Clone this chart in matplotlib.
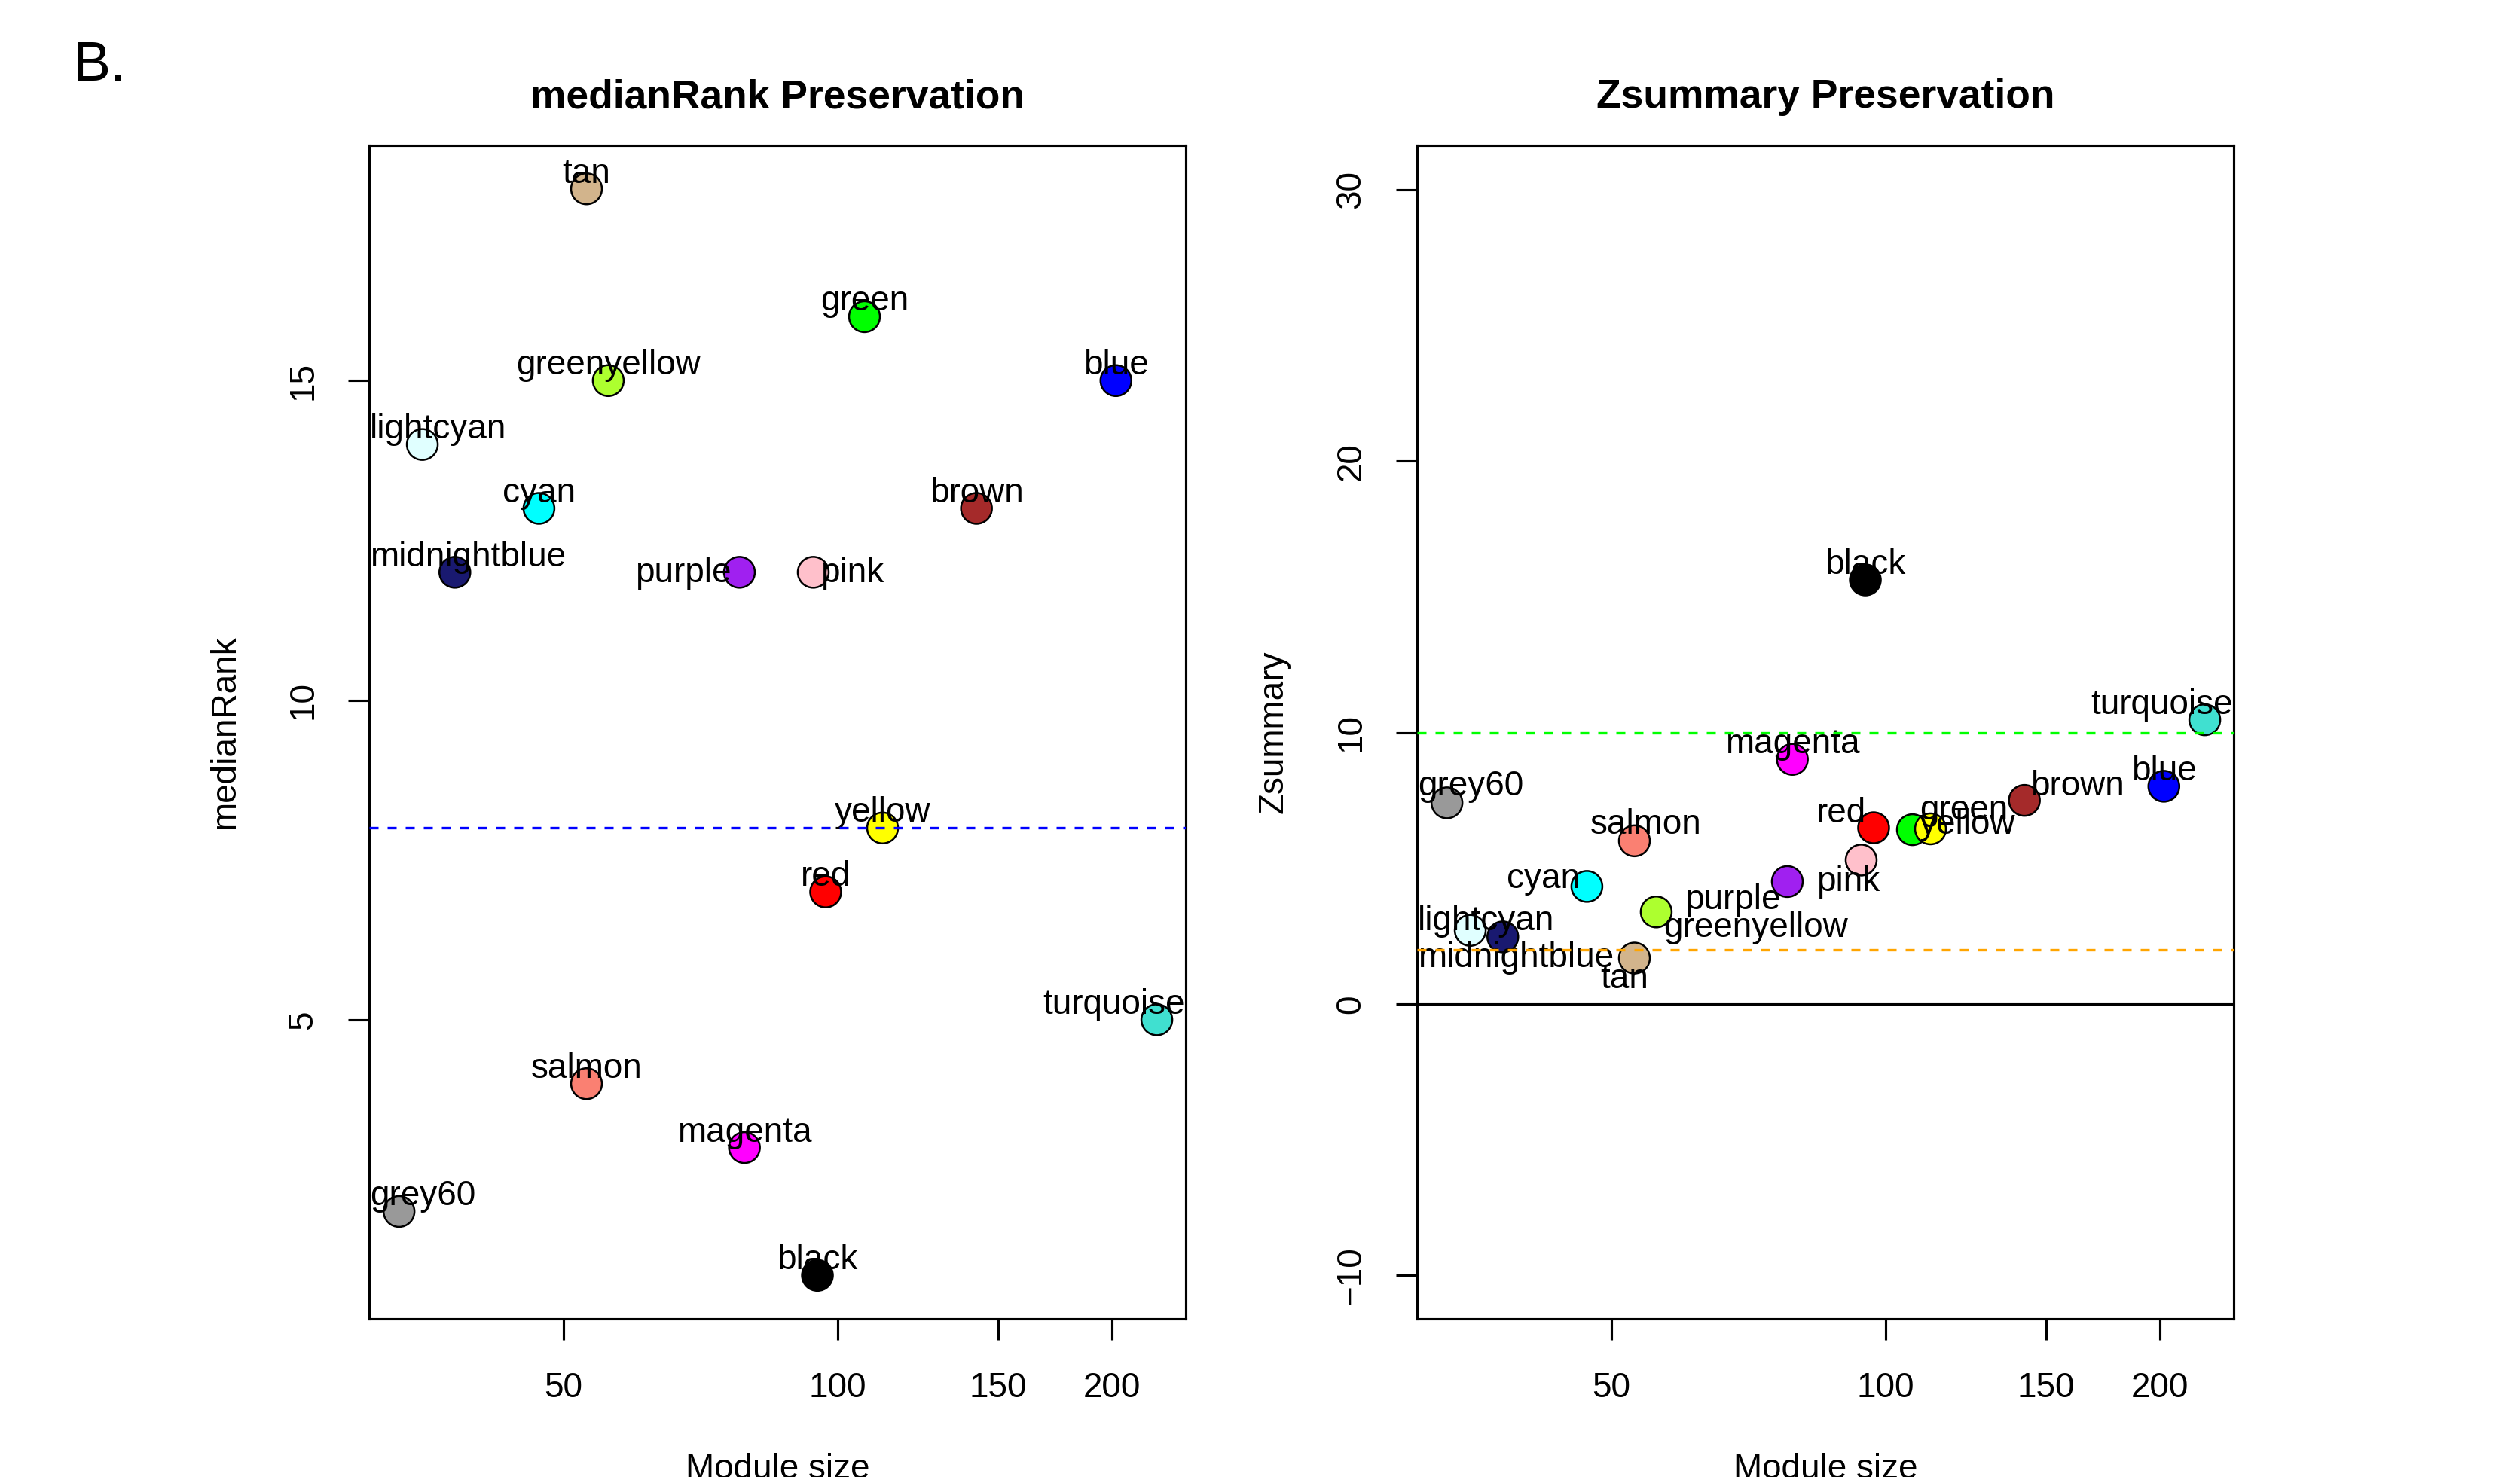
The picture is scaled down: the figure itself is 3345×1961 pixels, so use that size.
import matplotlib
matplotlib.use("Agg")
import matplotlib.pyplot as plt
from matplotlib.ticker import FixedLocator, NullLocator, FixedFormatter

# ---------------- data ----------------
modules = ["tan", "green", "greenyellow", "blue", "lightcyan", "cyan", "brown",
           "midnightblue", "purple", "pink", "yellow", "red", "turquoise",
           "salmon", "magenta", "grey60", "black"]
module_size = [53, 107, 56, 202, 35, 47, 142, 38, 78, 94, 112, 97, 224, 53, 79, 33, 95]
median_rank = [18, 16, 15, 15, 14, 13, 13, 12, 12, 12, 8, 7, 5, 4, 3, 2, 1]
zsummary = [1.69, 6.42, 3.39, 8.02, 2.71, 4.33, 7.50, 2.47, 4.51, 5.30, 6.45, 6.49,
            10.47, 6.01, 9.01, 7.41, 15.62]

x_ticks = [50, 100, 150, 200]
rank_ticks = [5, 10, 15]
z_ticks = [-10, 0, 10, 20, 30]
rank_threshold = 8
z_thresholds = [2, 10]

# ---------------- style ----------------
rcol = {"tan": "#D2B48C", "green": "#00FF00", "greenyellow": "#ADFF2F", "blue": "#0000FF",
        "lightcyan": "#E0FFFF", "cyan": "#00FFFF", "brown": "#A52A2A",
        "midnightblue": "#191970", "purple": "#A020F0", "pink": "#FFC0CB",
        "yellow": "#FFFF00", "red": "#FF0000", "turquoise": "#40E0D0",
        "salmon": "#FA8072", "magenta": "#FF00FF", "grey60": "#999999", "black": "#000000"}

# label placement (ha, dx px, dy px of baseline relative to point centre)
left_lab = {"purple": ("right", -11, -13), "pink": ("left", 10, -13)}
right_lab = {"brown": ("left", 8, 7), "red": ("right", -9.5, 7), "green": ("left", 10, 14),
             "yellow": ("left", -15, -7), "salmon": ("center", 15, 9),
             "pink": ("center", -17, -41), "purple": ("right", -9, -37),
             "cyan": ("right", -9, -2), "greenyellow": ("left", 9.5, -33),
             "lightcyan": ("center", 0, 0), "midnightblue": ("center", 0, -40),
             "tan": ("center", -13, -40), "grey60": ("center", 0, 10)}
default_lab = ("center", 0, 8)

plt.rcParams['font.family'] = ['Liberation Sans', 'DejaVu Sans']
DPI = 300
W, H = 3345, 1961
fig = plt.figure(figsize=(W / DPI, H / DPI), dpi=DPI)
PX = 72.0 / DPI  # px -> pt

def axrect(l, t, r, b):
    return [l / W, (H - b) / H, (r - l) / W, (b - t) / H]

ax1 = fig.add_axes(axrect(490, 193, 1574, 1751))
ax2 = fig.add_axes(axrect(1881, 193, 2965, 1751))

xlim = (30.6, 241.0)
lw = 0.75
texts = []

def setup(ax, yvals, ylim, yticks, title, ylabel, labspec):
    ax.set_xscale("log")
    ax.set_xlim(*xlim)
    ax.set_ylim(*ylim)
    for s in ax.spines.values():
        s.set_linewidth(lw)
    ax.xaxis.set_major_locator(FixedLocator(x_ticks))
    ax.xaxis.set_major_formatter(FixedFormatter([str(t) for t in x_ticks]))
    ax.xaxis.set_minor_locator(NullLocator())
    ax.set_yticks(yticks)
    ax.set_yticklabels([str(t).replace("-", "\u2212") for t in yticks], rotation=90, va="center")
    ax.tick_params(axis="both", length=28 * PX, width=lw, labelsize=11, pad=10)
    ax.tick_params(axis="y", pad=9)
    cols = [rcol[m] for m in modules]
    ax.scatter(module_size, yvals, s=(41 * PX) ** 2, c=cols, edgecolors="black",
               linewidths=0.6, zorder=3, clip_on=False)
    for m, xv, yv in zip(modules, module_size, yvals):
        ha, dx, dy = labspec.get(m, default_lab)
        t = ax.annotate(m, (xv, yv), xytext=(dx * PX, dy * PX), textcoords="offset points",
                        ha=ha, va="baseline", fontsize=11, zorder=4)
        texts.append((ax, t))
    ax.text(0.5, 1 + 50 / 1558, title, transform=ax.transAxes, ha="center",
            va="baseline", fontsize=12.8, fontweight="bold")
    ax.text(-191 / 1084, 0.5, ylabel, transform=ax.transAxes, rotation=90,
            ha="center", va="center", fontsize=11)
    ax.text(0.5, -(1963 - 1751) / 1558, "Module size", transform=ax.transAxes,
            ha="center", va="baseline", fontsize=11)

setup(ax1, median_rank, (0.32, 18.68), rank_ticks, "medianRank Preservation", "medianRank", left_lab)
setup(ax2, zsummary, (-11.6, 31.63), z_ticks, "Zsummary Preservation", "Zsummary", right_lab)

ax1.axhline(rank_threshold, color="#0000FF", lw=0.8, dashes=(3.6, 3.6), zorder=5)
ax2.axhline(0, color="black", lw=0.75, zorder=5)
ax2.axhline(z_thresholds[0], color="#FFA500", lw=0.8, dashes=(3.6, 3.6), zorder=5)
ax2.axhline(z_thresholds[1], color="#00FF00", lw=0.8, dashes=(3.6, 3.6), zorder=5)

fig.text(97 / W, 1 - 107 / H, "B.", fontsize=18, ha="left", va="baseline")

# keep labels inside plot region
fig.canvas.draw()
r = fig.canvas.get_renderer()
for ax, t in texts:
    bb = t.get_window_extent(r)
    abb = ax.get_window_extent(r)
    shift = 0
    if bb.x0 < abb.x0:
        shift = abb.x0 - bb.x0 + 1
    elif bb.x1 > abb.x1:
        shift = abb.x1 - bb.x1 - 1
    if shift:
        ox, oy = t.xyann
        t.xyann = (ox + shift * PX, oy)

fig.savefig("out.png", dpi=DPI)
